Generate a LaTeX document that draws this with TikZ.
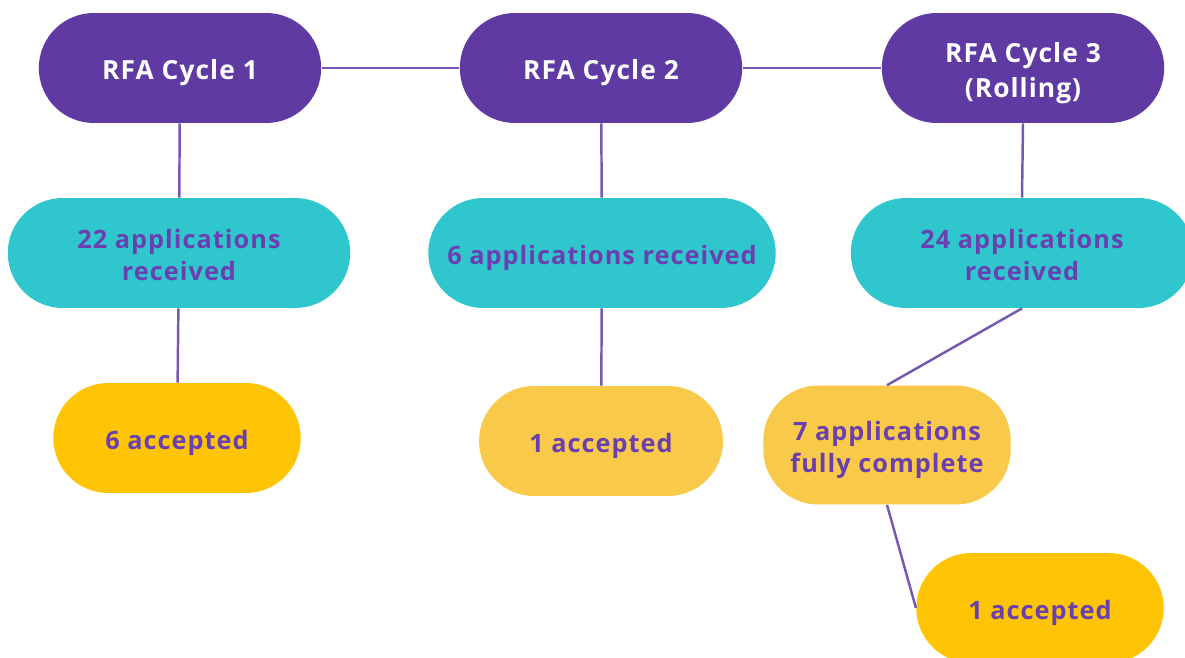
\documentclass[tikz,border=0pt]{standalone}
\usepackage{fontspec}
\setmainfont{Open Sans}[LetterSpace=4]
\definecolor{cyclepurple}{HTML}{5F3AA3}
\definecolor{apptext}{HTML}{6A40B0}
\definecolor{appteal}{HTML}{30C6CE}
\definecolor{accgold}{HTML}{FFC505}
\definecolor{accpale}{HTML}{F9CA4A}
% lowered, centred text block for the pills
\newcommand{\pilltext}[1]{\raisebox{-2.8pt}[\height][\depth]{\begin{tabular}{@{}c@{}}#1\end{tabular}}}
\begin{document}
\begin{tikzpicture}[x=0.02cm,y=-0.02cm,
		pill/.style={rectangle,rounded corners=1.1cm,minimum height=2.2cm,font=\bfseries\fontsize{14.4}{18.7}\selectfont,inner sep=0pt},
		cycle/.style={pill,fill=cyclepurple,text=white,minimum width=5.65cm,font=\bfseries\fontsize{15}{19.8}\selectfont},
		recv/.style={pill,fill=appteal,text=apptext,minimum width=6.9cm},
		acc/.style={pill,fill=accgold,text=apptext,minimum width=4.95cm},
		link/.style={draw=cyclepurple!85!white,line width=1.4pt}]
	\useasboundingbox (0,0) rectangle (1185,658);
	\clip (0,0) rectangle (1185,658);
	% top row
	\node[cycle] (c1) at (180,68) {\pilltext{RFA Cycle 1}};
	\node[cycle] (c2) at (601,68) {\pilltext{RFA Cycle 2}};
	\node[cycle] (c3) at (1023,68) {\pilltext{RFA Cycle 3\\(Rolling)}};
	% received
	\node[recv,minimum width=6.85cm] (r1) at (179,253) {\pilltext{22 applications\\received}};
	\node[recv,minimum width=6.95cm] (r2) at (602,253) {\pilltext{6 applications received}};
	\node[recv,minimum width=6.85cm] (r3) at (1022,253) {\pilltext{24 applications\\received}};
	% outcomes
	\node[acc] (a1) at (177,438) {\pilltext{6 accepted}};
	\node[acc,fill=accpale,minimum width=4.88cm] (a2) at (601,441) {\pilltext{1 accepted}};
	\node[acc,fill=accpale,minimum height=2.38cm] (f3) at (887,445) {\pilltext{7 applications\\fully complete}};
	\node[acc] (a3) at (1040,608) {\pilltext{1 accepted}};
	% connectors
	\draw[link] (c1) -- (c2);
	\draw[link] (c2) -- (c3);
	\draw[link] (c1) -- (r1);
	\draw[link] (c2) -- (r2);
	\draw[link] (c3.south) -- (r3.north);
	\draw[link] (r1) -- (a1);
	\draw[link] (r2) -- (a2);
	\draw[link] (r3.south) -- (f3.north);
	\draw[link] (f3.south) -- (a3.west);
\end{tikzpicture}
\end{document}
